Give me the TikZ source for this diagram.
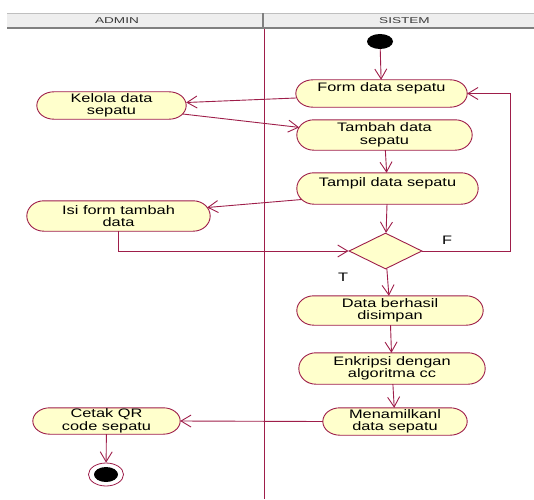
\documentclass[tikz,border=0pt]{standalone}
\usepackage{fontspec}
\setmainfont{Liberation Sans}[FakeStretch=1.33]
\newfontfamily\headfont{Liberation Sans}[FakeStretch=1.6]
\usetikzlibrary{arrows.meta,shapes.geometric,calc,backgrounds}

\definecolor{umlline}{RGB}{158,30,74}
\definecolor{umlfill}{RGB}{255,255,204}
\definecolor{headfill}{RGB}{238,238,238}
\definecolor{headline}{RGB}{128,128,128}
\definecolor{headtext}{RGB}{60,60,60}

% half-width of the rounded ends of an activity box
\newcommand\actend{17pt}
% outline of an activity: flat top and bottom, elliptic ends
\newcommand\actoutline[1]{%
  \path[actshape] let \p1=(#1.north west), \p2=(#1.south east), \n1={(\y1-\y2)/2} in
    (\x1+\actend,\y1) -- (\x2-\actend,\y1)
    arc[start angle=90,end angle=-90,x radius=\actend,y radius=\n1]
    -- (\x1+\actend,\y2)
    arc[start angle=270,end angle=90,x radius=\actend,y radius=\n1] -- cycle;}

\begin{document}
\begin{tikzpicture}[x=1pt,y=1pt,
  actshape/.style={draw=umlline, fill=umlfill, line width=0.9pt},
  act/.style={rectangle, draw=none, inner sep=0pt, align=center, text=black,
    font=\fontsize{12.3}{12.5}\selectfont},
  oneline/.style={text height=9pt, text depth=13pt},
  decision/.style={diamond, draw=umlline, fill=umlfill, line width=0.9pt,
    minimum width=73pt, minimum height=36pt, inner sep=0pt},
  initial/.style={ellipse, fill=black, minimum width=26pt, minimum height=15pt, inner sep=0pt},
  final/.style={ellipse, draw=umlline, fill=white, line width=0.8pt,
    minimum width=35pt, minimum height=23pt, inner sep=0pt,
    path picture={\fill[black] (path picture bounding box.center) ellipse[x radius=12pt, y radius=7.5pt];}},
  flow/.style={draw=umlline, line width=0.9pt, -{Straight Barb[length=10pt,width=12pt]}},
  headtxt/.style={text=headtext, font=\headfont\fontsize{8.5}{9}\selectfont, inner sep=0pt},
  guard/.style={text=black, font=\fontsize{12.3}{12.5}\selectfont, inner sep=0pt}]

\useasboundingbox (0,0) rectangle (534,499);

% swimlane header
\fill[headfill] (7,471) rectangle (534,486);
\draw[black!25, line width=0.6pt] (7,486) -- (534,486);
\draw[headline, line width=2pt] (7,471) -- (534,471);
\draw[headline, line width=1.6pt] (263,471) -- (263,486);
\node[headtxt] (hadmin) at (117,478.5) {ADMIN};
\node[headtxt] (hsistem) at (404.5,478.5) {SISTEM};

% lane separator
\draw[umlline, line width=1pt] (264,470) -- (264,0);

% activities
\node[act, oneline, minimum width=171pt, minimum height=27pt] (form) at (381.5,405.5) {Form data sepatu};
\node[act, minimum width=149pt, minimum height=27pt] (kelola) at (111.5,393.5) {Kelola data\\sepatu};
\node[act, minimum width=175pt, minimum height=30pt] (tambah) at (384.5,364) {Tambah data\\sepatu};
\node[act, oneline, minimum width=181pt, minimum height=31pt] (tampil) at (387.5,310.5) {Tampil data sepatu};
\node[act, minimum width=183pt, minimum height=30pt] (isi) at (118.5,283) {Isi form tambah\\data};
\node[act, minimum width=186pt, minimum height=29pt] (simpan) at (390,188.5) {Data berhasil\\disimpan};
\node[act, minimum width=186pt, minimum height=31pt] (enkripsi) at (392,130.5) {Enkripsi dengan\\algoritma cc};
\node[act, minimum width=144pt, minimum height=27pt] (tampilkan) at (395,77.5) {Menamilkanl\\data sepatu};
\node[act, minimum width=147pt, minimum height=26pt] (cetak) at (106.5,78) {Cetak QR\\code sepatu};

\begin{scope}[on background layer]
  \actoutline{form}
  \actoutline{kelola}
  \actoutline{tambah}
  \actoutline{tampil}
  \actoutline{isi}
  \actoutline{simpan}
  \actoutline{enkripsi}
  \actoutline{tampilkan}
  \actoutline{cetak}
\end{scope}

% control nodes
\node[initial] (start) at (380,457.5) {};
\node[decision] (dec) at (385.5,248) {};
\node[final] (stop) at (106,24.5) {};
\coordinate (loop) at (510,248);

% guards
\node[guard] (gf) at (447,259) {F};
\node[guard] (gt) at (343,222) {T};

% flows
\draw[flow] (start) -- (form);
\draw[flow] ([yshift=-4.5pt]form.west) -- ([yshift=3pt]kelola.east);
\draw[flow] ([xshift=-3.5pt,yshift=-8.5pt]kelola.east) -- ([xshift=2.3pt,yshift=7.6pt]tambah.west);
\draw[flow] (tambah) -- (tampil);
\draw[flow] ([xshift=5pt,yshift=-11pt]tampil.west) -- ([xshift=-3pt,yshift=8.5pt]isi.east);
\draw[flow] (tampil) -- (dec);
\draw[flow] (isi.south) |- (dec.west);
\draw[flow] (dec.east) -- (loop) |- (form.east);
\draw[flow] (dec) -- (simpan);
\draw[flow] (simpan) -- (enkripsi);
\draw[flow] (enkripsi) -- (tampilkan);
\draw[flow] (tampilkan.west) -- (cetak.east);
\draw[flow] (cetak) -- (stop);

\end{tikzpicture}
\end{document}
